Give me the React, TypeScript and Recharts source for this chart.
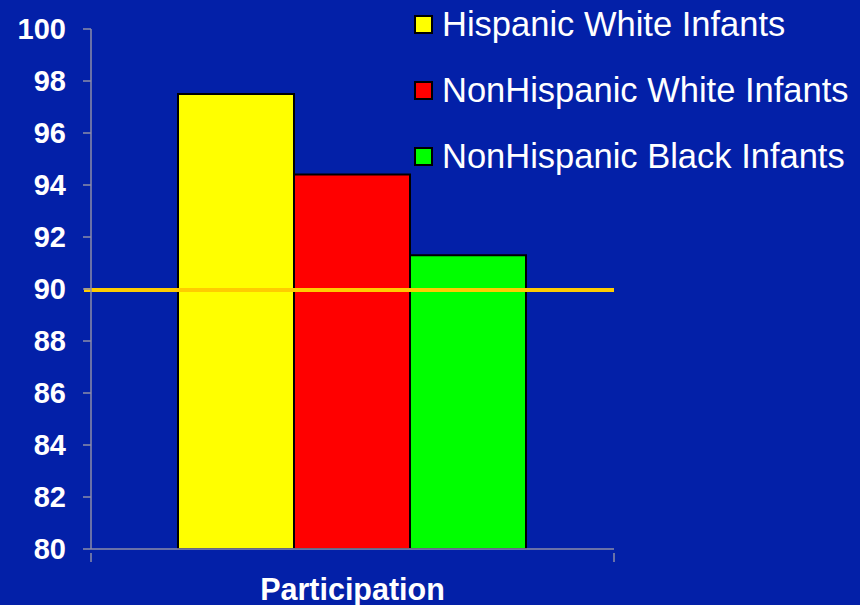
import React from "react";
import { BarChart, Bar, XAxis, YAxis, ReferenceLine } from "recharts";

// Category and series values
const categories = ["Participation"];
const hispanicWhite = [97.5];
const nonHispanicWhite = [94.4];
const nonHispanicBlack = [91.3];
const yTicks = [80, 82, 84, 86, 88, 90, 92, 94, 96, 98, 100];
const targetLevel = 90;

const series = [
  { key: "hispanicWhite", name: "Hispanic White Infants", color: "#FFFF00" },
  { key: "nonHispanicWhite", name: "NonHispanic White Infants", color: "#FF0000" },
  { key: "nonHispanicBlack", name: "NonHispanic Black Infants", color: "#00FF00" },
];

const data = categories.map((c, i) => ({
  name: c,
  hispanicWhite: hispanicWhite[i],
  nonHispanicWhite: nonHispanicWhite[i],
  nonHispanicBlack: nonHispanicBlack[i],
}));

const BG = "#0320A8";
const AXIS = "#8C8CA8";
const FONT = '"Liberation Sans", Arial, Helvetica, sans-serif';

// Category label plus the boundary tick marks at both ends of the x axis
const XTick = (props: any) => {
  const { x, y, payload, width } = props;
  const half = (width ?? 0) / 2;
  const axisY = y - 2;
  return (
    <g>
      {half > 0 && (
        <>
          <line x1={x - half} y1={axisY - 2} x2={x - half} y2={axisY + 7} stroke={AXIS} strokeWidth={1.5} />
          <line x1={x + half} y1={axisY - 2} x2={x + half} y2={axisY + 7} stroke={AXIS} strokeWidth={1.5} />
        </>
      )}
      <text
        x={x}
        y={axisY + 45}
        textAnchor="middle"
        fill="#FFFFFF"
        fontSize={30.5}
        fontWeight="bold"
        fontFamily={FONT}
      >
        {payload.value}
      </text>
    </g>
  );
};

const SeriesLegend = () => (
  <div style={{ position: "absolute", left: 414, top: 0, fontFamily: FONT }}>
    {series.map((s) => (
      <div
        key={s.key}
        style={{ display: "flex", alignItems: "center", height: 48, marginBottom: 18 }}
      >
        <div
          style={{
            width: 15,
            height: 15,
            background: s.color,
            border: "2px solid #000",
            marginRight: 9,
            flex: "none",
          }}
        />
        <span style={{ color: "#FFFFFF", fontSize: 34.5, whiteSpace: "nowrap", lineHeight: "48px" }}>
          {s.name}
        </span>
      </div>
    ))}
  </div>
);

export default function App() {
  return (
    <div
      style={{
        position: "absolute",
        left: 0,
        top: 0,
        width: 860,
        height: 605,
        background: BG,
        fontFamily: FONT,
        overflow: "hidden",
      }}
    >
      <BarChart
        width={860}
        height={605}
        data={data}
        margin={{ top: 29, right: 246, bottom: 0, left: 0 }}
        barCategoryGap={87}
        barGap={0}
      >
        <XAxis
          dataKey="name"
          height={56}
          tickLine={false}
          axisLine={{ stroke: AXIS, strokeWidth: 1.5 }}
          tick={<XTick />}
          interval={0}
        />
        <YAxis
          type="number"
          domain={[80, 100]}
          ticks={yTicks}
          width={91}
          interval={0}
          allowDataOverflow
          tickSize={8}
          tickMargin={17}
          axisLine={{ stroke: AXIS, strokeWidth: 1.5 }}
          tickLine={{ stroke: AXIS, strokeWidth: 1.5 }}
          tick={{ fill: "#FFFFFF", fontSize: 29, fontWeight: "bold", fontFamily: FONT }}
        />
        {series.map((s) => (
          <Bar
            key={s.key}
            dataKey={s.key}
            name={s.name}
            fill={s.color}
            stroke="#000000"
            strokeWidth={2}
            isAnimationActive={false}
          />
        ))}
        <ReferenceLine
          y={targetLevel}
          stroke="#FFCC00"
          strokeWidth={4}
          shape={(p: any) => (
            <line x1={p.x1 - 7} y1={p.y1 + 1} x2={p.x2} y2={p.y2 + 1} stroke="#FFCC00" strokeWidth={4} />
          )}
        />
      </BarChart>
      <SeriesLegend />
    </div>
  );
}
